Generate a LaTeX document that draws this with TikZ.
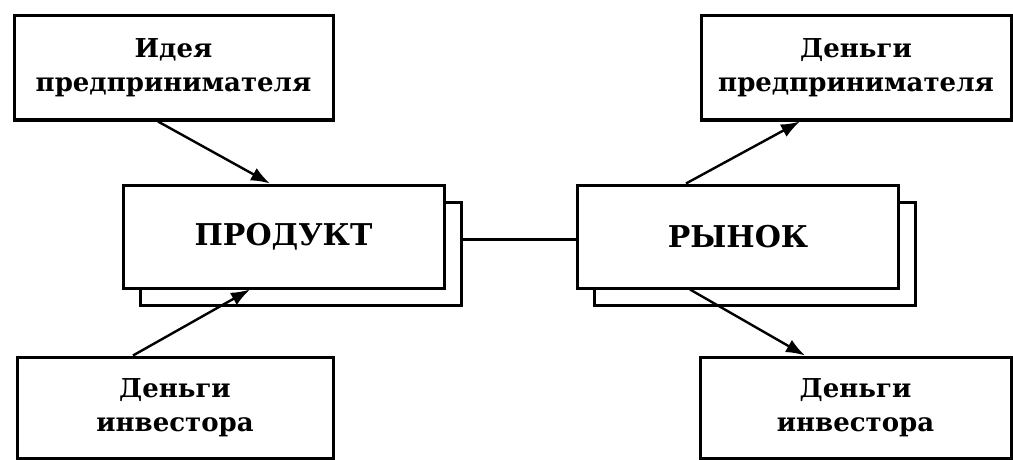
\documentclass[tikz,border=0pt]{standalone}
\usepackage{fontspec}
\setmainfont{DejaVu Serif}
\usetikzlibrary{arrows.meta,shadows,calc}
\begin{document}
\begin{tikzpicture}[x=1pt,y=-1pt,
  box/.style={draw=black,line width=3pt,fill=white,rectangle,align=center,inner sep=0pt,
    font=\fontsize{26}{34}\selectfont\bfseries},
  bigbox/.style={box,minimum width=321pt,minimum height=103pt,
    font=\fontsize{30}{34}\selectfont\bfseries,
    general shadow={shadow xshift=17pt,shadow yshift=-17pt,draw=black,fill=white,line width=3pt}},
  arr/.style={line width=2.4pt,-{Latex[length=19pt,width=14pt]}},
  conn/.style={line width=2.4pt}]
\useasboundingbox (0,0) rectangle (1013,460);
\node[box,minimum width=319pt,minimum height=104pt] (idea) at (173.5,68) {Идея\\предпринимателя};
\node[box,minimum width=316pt,minimum height=101pt] (invL) at (175,407.5) {Деньги\\инвестора};
\node[box,minimum width=310pt,minimum height=104pt] (moneyE) at (856,68) {Деньги\\предпринимателя};
\node[box,minimum width=311pt,minimum height=101pt] (invR) at (855.5,407.5) {Деньги\\инвестора};
\node[bigbox] (prod) at (283.5,236.5) {ПРОДУКТ};
\node[bigbox] (rynok) at (738,236.5) {РЫНОК};
\draw[arr] ([xshift=-15.5pt]idea.south) -- ([xshift=-13.5pt]prod.north);
\draw[arr] ([xshift=-42pt]invL.north) -- ([xshift=-33.5pt]prod.south);
\draw[conn] ([xshift=17pt,yshift=-3pt]prod.east) -- ([yshift=-3pt]rynok.west);
\draw[arr] ([xshift=-52pt]rynok.north) -- ([xshift=-56pt]moneyE.south);
\draw[arr] ([xshift=-48pt]rynok.south) -- ([xshift=-50.5pt]invR.north);
\end{tikzpicture}
\end{document}
